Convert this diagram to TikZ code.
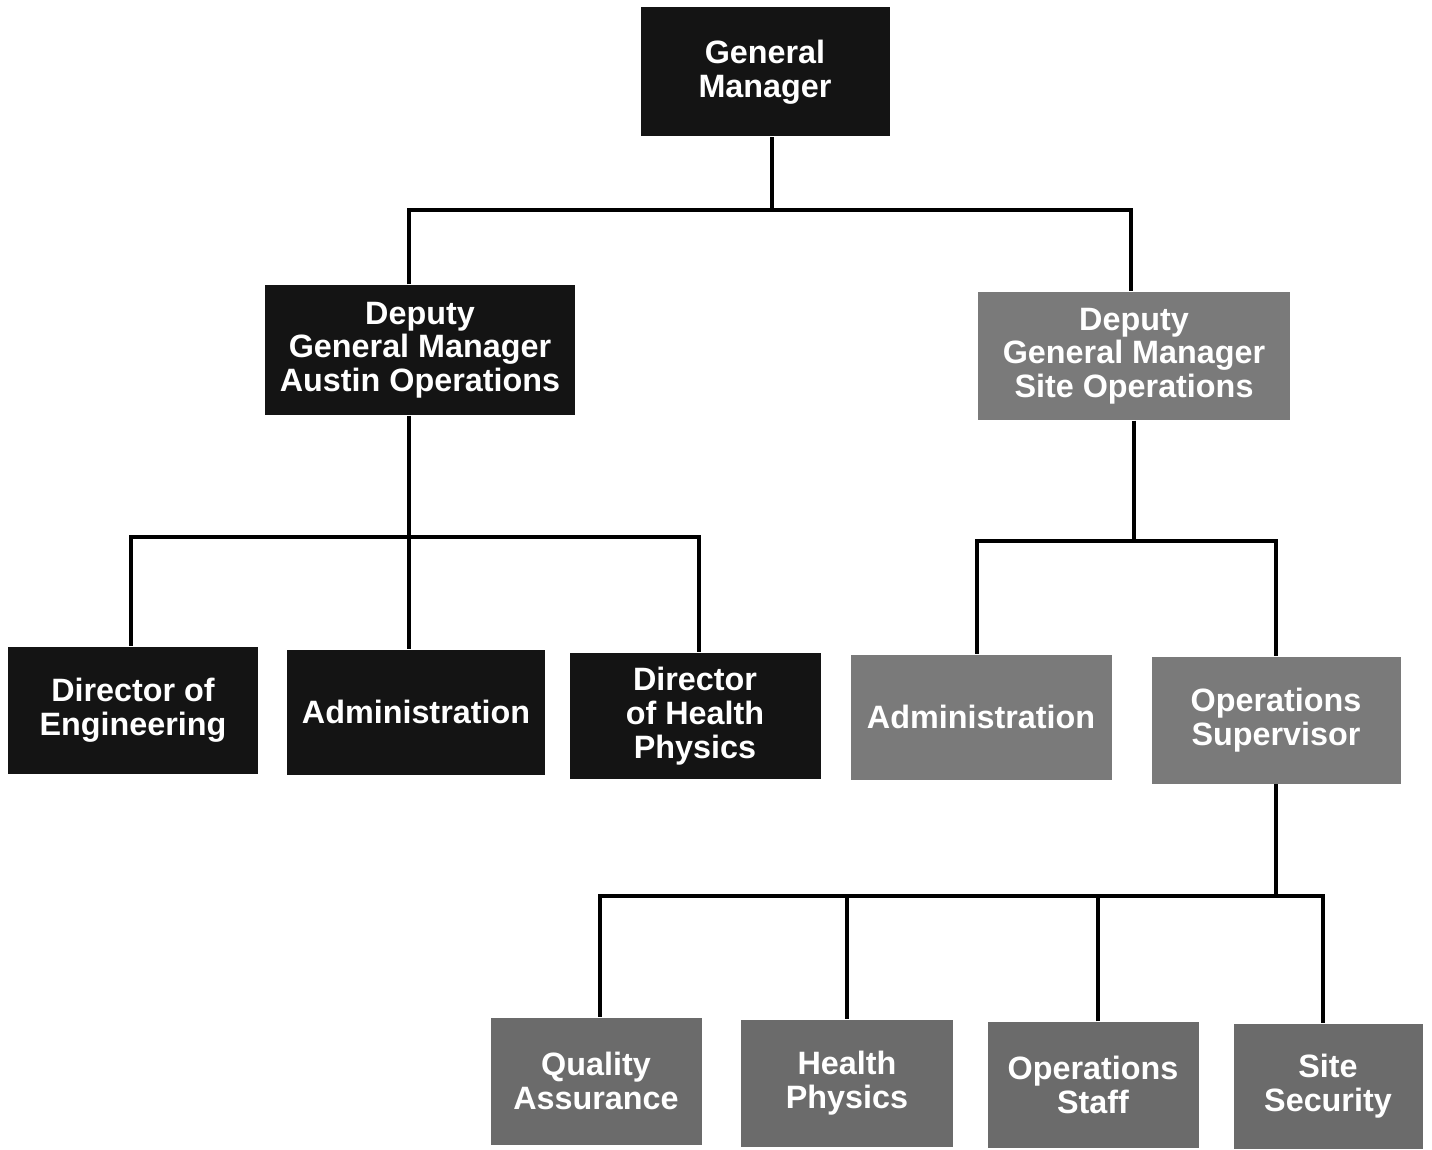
\documentclass[tikz,border=0pt]{standalone}
\usepackage{fontspec}
\setmainfont{Liberation Sans}
\usepackage{tikz}

\tikzset{
    unit/.style={text=white, font=\bfseries\fontsize{9.2}{9.6}\selectfont, align=center, inner sep=0pt},
    dark/.style={unit, fill=black!92},
    light/.style={unit, fill=black!52},
    lower/.style={unit, fill=black!58},
    link/.style={draw=black, line width=0.9pt}
}

\begin{document}
\begin{tikzpicture}
    \useasboundingbox (0, 0) rectangle (14.32, -11.49);

    % top
    \node[dark, minimum width=2.49cm, minimum height=1.29cm] (gm) at (7.65, -0.72) {General\\Manager};

    % deputies
    \node[dark, minimum width=3.10cm, minimum height=1.30cm] (dga) at (4.20, -3.50) {Deputy\\General Manager\\Austin Operations};
    \node[light, minimum width=3.12cm, minimum height=1.28cm] (dgs) at (11.34, -3.56) {Deputy\\General Manager\\Site Operations};

    % austin side
    \node[dark, minimum width=2.50cm, minimum height=1.27cm] (eng) at (1.33, -7.10) {Director of\\Engineering};
    \node[dark, minimum width=2.58cm, minimum height=1.25cm] (adma) at (4.16, -7.12) {Administration};
    \node[dark, minimum width=2.51cm, minimum height=1.26cm] (dhp) at (6.95, -7.16) {Director\\of Health\\Physics};

    % site side
    \node[light, minimum width=2.61cm, minimum height=1.25cm] (adms) at (9.81, -7.17) {Administration};
    \node[light, minimum width=2.49cm, minimum height=1.27cm] (sup) at (12.76, -7.20) {Operations\\Supervisor};

    % under the supervisor
    \node[lower, minimum width=2.11cm, minimum height=1.27cm] (qa) at (5.96, -10.81) {Quality\\Assurance};
    \node[lower, minimum width=2.12cm, minimum height=1.27cm] (hp) at (8.47, -10.83) {Health\\Physics};
    \node[lower, minimum width=2.11cm, minimum height=1.26cm] (staff) at (10.93, -10.85) {Operations\\Staff};
    \node[lower, minimum width=1.89cm, minimum height=1.25cm] (sec) at (13.28, -10.86) {Site\\Security};

    % bars
    \coordinate (bar1) at (7.72, -2.10);
    \coordinate (bar2) at (4.09, -5.37);
    \coordinate (bar3) at (11.33, -5.41);
    \coordinate (bar4) at (12.76, -8.96);

    \draw[link] (gm.south -| bar1) -- (bar1);
    \draw[link] ([xshift=-0.11cm]dga.north) |- (bar1) -| ([xshift=-0.03cm]dgs.north);

    \draw[link] ([xshift=-0.11cm]dga.south) -- ([xshift=-0.11cm]dga.south |- bar2);
    \draw[link] ([xshift=-0.02cm]eng.north) |- (bar2) -| ([xshift=0.04cm]dhp.north);
    \draw[link] (bar2) -- ([xshift=-0.07cm]adma.north);

    \draw[link] (dgs.south) -- (dgs.south |- bar3);
    \draw[link] ([xshift=-0.04cm]adms.north) |- (bar3) -| (sup.north);

    \draw[link] (sup.south) -- (bar4);
    \draw[link] ([xshift=0.04cm]qa.north) |- (bar4) -| ([xshift=-0.05cm]sec.north);
    \draw[link] (hp.north) -- (hp.north |- bar4);
    \draw[link] ([xshift=0.05cm]staff.north) -- ([xshift=0.05cm]staff.north |- bar4);
\end{tikzpicture}
\end{document}
